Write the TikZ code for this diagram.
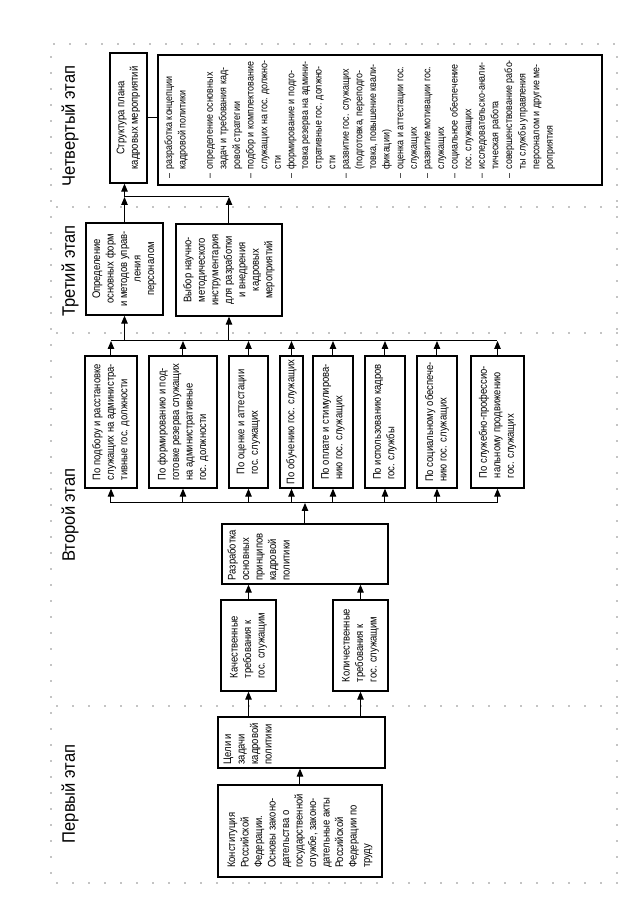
\documentclass[tikz,border=0pt]{standalone}
\usepackage{fontspec}
\setmainfont{Liberation Sans}[FakeStretch=0.86]
\newfontfamily\stagefont{Liberation Sans}[FakeStretch=0.92]
\usetikzlibrary{arrows.meta}

\begin{document}
\begin{tikzpicture}[x=1pt, y=1pt, rotate=90, transform shape,
		box/.style={draw, line width=1.3pt, inner sep=4pt, align=left, font=\fontsize{11}{13.5}\selectfont},
		boxc/.style={box, align=center},
		lbl/.style={inner xsep=4pt, inner ysep=6pt, align=left, font=\fontsize{11}{13.5}\selectfont},
		stage/.style={inner sep=0pt, font=\stagefont\fontsize{18}{20}\selectfont},
		arr/.style={line width=1pt, -{Triangle[length=8pt,width=6.5pt]}},
		bus/.style={line width=1pt},
		dots/.style={line width=1.3pt, line cap=round, dash pattern=on 0pt off 16pt}]
		% picture is drawn lying down and turned by 90 degrees
		\useasboundingbox[fill=white] (0,0) rectangle (924,628);

		\draw[dots] (41,11) rectangle (880,577);
		\foreach \u in {218,591,717}
			\draw[dots] (\u,11) -- (\u,577);

		\node[stage] (etap1) at (130,558) {Первый этап};
		\node[stage] (etap2) at (409,558) {Второй этап};
		\node[stage] (etap3) at (653,558) {Третий этап};
		\node[stage] (etap4) at (798,558) {Четвертый этап};

		% first stage
		\node[box, minimum width=92pt, minimum height=164pt] (konst) at (93,328) {Конституция\\Российской\\Федерации.\\Основы законо-\\дательства о\\государственной\\службе, законо-\\дательные акты\\Российской\\Федерации по\\труду};
		\node[box, minimum width=51pt, minimum height=167pt] (celi) at (181.5,326.5) {};
		\node[lbl, anchor=north west] (celi-t) at (celi.north west) {Цели и\\задачи\\кадровой\\политики};

		% second stage
		\node[box, minimum width=91pt, minimum height=55pt] (kach) at (278.5,379.5) {Качественные\\требования к\\гос. служащим};
		\node[box, minimum width=91pt, minimum height=55pt] (kol) at (278.5,267.5) {Количественные\\требования к\\гос. служащим};
		\node[box, minimum width=60pt, minimum height=166pt] (razr) at (370,323) {};
		\node[lbl, anchor=north west] (razr-t) at (razr.north west) {Разработка\\основных\\принципов\\кадровой\\политики};

		\node[box, minimum width=132pt, minimum height=52pt] (b1) at (502,517) {По подбору и расстановке\\служащих на администра-\\тивные гос. должности};
		\node[box, minimum width=132pt, minimum height=68pt] (b2) at (502,445) {По формированию и под-\\готовке резерва служащих\\на административные\\гос. должности};
		\node[box, minimum width=132pt, minimum height=39pt] (b3) at (502,379.5) {По оценке и аттестации\\гос. служащих};
		\node[box, minimum width=132pt, minimum height=23pt] (b4) at (502,336.5) {По обучению гос. служащих};
		\node[box, minimum width=132pt, minimum height=40pt] (b5) at (502,295) {По оплате и стимулирова-\\нию гос. служащих};
		\node[box, minimum width=132pt, minimum height=40pt] (b6) at (502,243) {По использованию кадров\\гос. службы};
		\node[box, minimum width=132pt, minimum height=40pt] (b7) at (502,191) {По социальному обеспече-\\нию гос. служащих};
		\node[box, minimum width=132pt, minimum height=53pt] (b8) at (502,130.5) {По служебно-профессио-\\нальному продвижению\\гос. служащих};

		% third stage
		\node[boxc, minimum width=92pt, minimum height=77pt] (opr) at (655,503.5) {Определение\\основных форм\\и методов управ-\\ления\\персоналом};
		\node[boxc, minimum width=92pt, minimum height=106pt] (vyb) at (654,399) {Выбор научно-\\методического\\инструментария\\для разработки\\и внедрения\\кадровых\\мероприятий};

		% fourth stage
		\node[boxc, minimum width=130pt, minimum height=37pt] (struct) at (806,499.5) {Структура плана\\кадровых мероприятий};
		\node[box, minimum width=130pt, minimum height=444pt] (spisok) at (804,248) {};
		\node[lbl, anchor=north west, inner xsep=7pt, inner ysep=5pt, font=\fontsize{10.4}{13.6}\selectfont] (spisok-t) at (spisok.north west) {%
			\begin{tabular}{@{}l@{\hspace{4pt}}l@{}}
				-- & разработка концепции \\
				   & кадровой политики \\
				   & \\
				-- & определение основных \\
				   & задач и требования кад- \\
				   & ровой стратегии \\
				-- & подбор и комплектование \\
				   & служащих на гос. должно- \\
				   & сти \\
				-- & формирование и подго- \\
				   & товка резерва на админи- \\
				   & стративные гос. должно- \\
				   & сти \\
				-- & развитие гос. служащих \\
				   & (подготовка, переподго- \\
				   & товка, повышение квали- \\
				   & фикации) \\
				-- & оценка и аттестации гос. \\
				   & служащих \\
				-- & развитие мотивации гос. \\
				   & служащих \\
				-- & социальное обеспечение \\
				   & гос. служащих \\
				-- & исследовательско-анали- \\
				   & тическая работа \\
				-- & совершенствование рабо- \\
				   & ты службы управления \\
				   & персоналом и другие ме- \\
				   & роприятия
			\end{tabular}};

		% connectors
		\coordinate (bus1) at (421,0);
		\coordinate (bus2) at (583,0);
		\coordinate (bus3) at (727,0);

		\draw[arr] (konst.east) -- (konst.east -| celi.west);
		\draw[arr] (kach.west -| celi.east) -- (kach.west);
		\draw[arr] (kol.west -| celi.east) -- (kol.west);
		\draw[arr] (kach.east) -- (kach.east -| razr.west);
		\draw[arr] (kol.east) -- (kol.east -| razr.west);

		\draw[arr] (razr.east) -- (razr.east -| bus1);
		\draw[bus] (b1.west -| bus1) -- (b8.west -| bus1);
		\draw[bus] (b1.east -| bus2) -- (b8.east -| bus2);
		\foreach \i in {1,...,8} {
			\draw[arr] (b\i.west -| bus1) -- (b\i.west);
			\draw[arr] (b\i.east) -- (b\i.east -| bus2);
		}

		\draw[arr] (opr.west -| bus2) -- (opr.west);
		\draw[arr] (vyb.west -| bus2) -- (vyb.west);
		\draw[arr] (opr.east) -- (opr.east -| bus3);
		\draw[arr] (vyb.east) -- (vyb.east -| bus3);
		\draw[bus] (opr.east -| bus3) -- (vyb.east -| bus3);
		\draw[arr] (opr.east -| bus3) -- (opr.east -| struct.west);

		\draw[bus] (struct.south) -- (struct.south |- spisok.north);
\end{tikzpicture}
\end{document}
